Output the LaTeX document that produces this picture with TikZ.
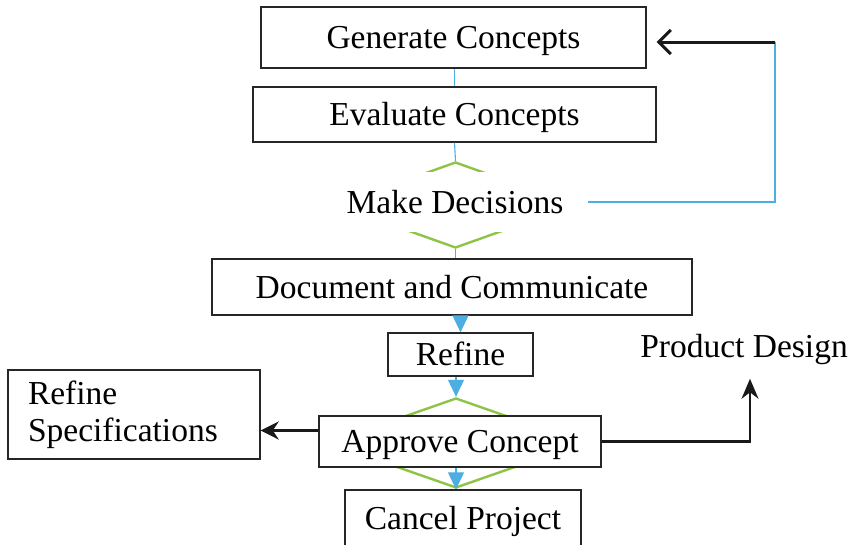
\documentclass[tikz,border=0pt]{standalone}
\usepackage{fontspec}
\setmainfont{Liberation Serif}
\usetikzlibrary{arrows.meta,shapes.geometric}
\definecolor{flowblue}{RGB}{77,174,226}
\definecolor{flowgreen}{RGB}{141,196,70}

\begin{document}
\begin{tikzpicture}[x=1pt,y=-1pt,
  font=\fontsize{33.5}{37}\selectfont,
  stage/.style={draw=black!85,line width=1.3pt,inner sep=0pt,text height=22pt,text depth=0pt},
  choice/.style={diamond,draw=flowgreen,line width=2.4pt,inner sep=0pt},
  cover/.style={fill=white,inner sep=0pt,minimum width=266pt,minimum height=60pt},
  flow/.style={draw=flowblue,line width=1.1pt},
  flowarrow/.style={flow,-{Triangle[width=16pt,length=17pt]}},
  back/.style={draw=black!90,line width=2.8pt}
]
\useasboundingbox (0,0) rectangle (854,544);

\node[stage,minimum width=385pt,minimum height=61pt] (gen) at (453.5,37.5) {Generate Concepts};
\node[stage,minimum width=403pt,minimum height=55pt] (eval) at (454.5,114.5) {Evaluate Concepts};
\node[choice,minimum width=240pt,minimum height=86pt] (md) at (455.5,205) {};
\node[cover] (mdt) at (455,202) {Make Decisions};
\node[stage,minimum width=480pt,minimum height=56pt] (doc) at (452,287) {Document and Communicate};
\node[stage,minimum width=145pt,minimum height=43pt] (ref) at (460.5,354.5) {Refine};
\node[choice,minimum width=256pt,minimum height=90pt] (ad) at (456,443) {};
\node[stage,fill=white,minimum width=282pt,minimum height=51pt] (ac) at (460,441.5) {Approve Concept};
\node[stage,minimum width=236pt,minimum height=56pt] (cp) at (463,518) {Cancel Project};
\node[draw=black!85,line width=1.3pt,minimum width=252pt,minimum height=89pt,text width=212pt,align=left] (rs) at (134,414.5) {Refine\\Specifications};
\node (pd) at (744,349) {Product Design};
\coordinate (loop) at (775,42);

\draw[flow] (gen.south -| eval.north) -- (eval.north);
\draw[flow] (eval.south) -- (md.north);
\draw[flow] (md.south) -- (md.south |- doc.north);
\draw[flowarrow] (ref.north |- doc.south) -- (ref.north);
\draw[flowarrow] (ad.north |- ref.south) -- (ad.north);
\draw[flowarrow] (ad.south |- ac.south) -- (ad.south |- cp.north);
\draw[flow] (mdt.east) -| (loop);
\draw[back,line width=3pt,-{Straight Barb[length=12pt,width=24pt]},shorten >=10pt] (loop) -- (loop -| gen.east);
\draw[back,line width=3.5pt,-{Stealth[length=18pt,width=18pt]}] ([yshift=11pt]ac.west) -- ([yshift=11pt]ac.west -| rs.east);
\draw[back,line width=2.2pt,-{Stealth[length=20pt,width=17pt]},shorten >=11pt] (ac.east) -| ([xshift=6pt]pd.south);
\end{tikzpicture}
\end{document}
